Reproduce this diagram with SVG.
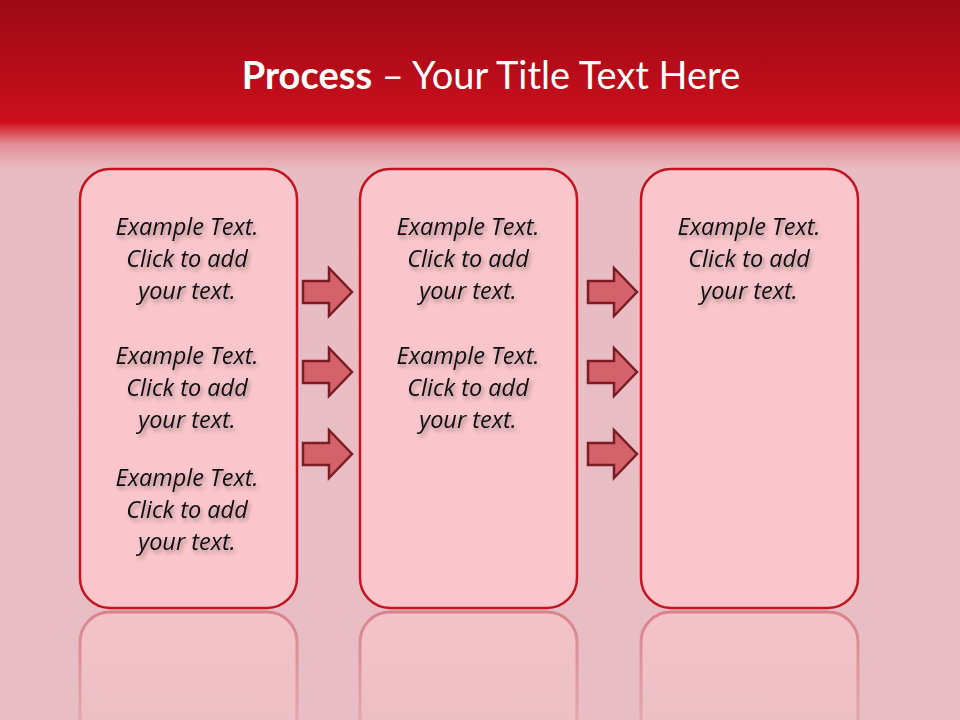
<svg xmlns="http://www.w3.org/2000/svg" width="960" height="720" viewBox="0 0 960 720">
<defs>
<linearGradient id="bg" x1="0" y1="0" x2="0" y2="1">
<stop offset="0" stop-color="#9b0914"/>
<stop offset="0.17" stop-color="#cc0f1d"/>
<stop offset="0.178" stop-color="#d8323e"/>
<stop offset="0.2" stop-color="#e38e97"/>
<stop offset="0.235" stop-color="#e8bcc2"/>
<stop offset="1" stop-color="#e8bec4"/>
</linearGradient>
<linearGradient id="refl" x1="0" y1="0" x2="0" y2="1">
<stop offset="0" stop-color="#fff" stop-opacity="0.85"/>
<stop offset="1" stop-color="#fff" stop-opacity="0.3"/>
</linearGradient>
<mask id="rm" maskUnits="userSpaceOnUse" x="0" y="600" width="960" height="120">
<rect x="0" y="600" width="960" height="120" fill="url(#refl)"/>
</mask>
<filter id="ts" x="-10%" y="-20%" width="120%" height="160%">
<feGaussianBlur in="SourceAlpha" stdDeviation="2"/>
<feOffset dx="2" dy="3" result="b"/>
<feComponentTransfer><feFuncA type="linear" slope="0.35"/></feComponentTransfer>
<feMerge><feMergeNode/><feMergeNode in="SourceGraphic"/></feMerge>
</filter>
<path id="arr" d="M0,-11 H26 V-24 L49,0 L26,24 V11 H0 Z"/>
</defs>
<style>
.box{fill:#fac6cb;stroke:#c3141f;stroke-width:2.5}
.rbox{fill:#f6c4c9;stroke:#d4747e;stroke-width:3}
.t{font-family:"Open Sans","Liberation Sans",sans-serif;font-style:italic;font-size:23.5px;fill:#111;text-anchor:middle}
.a{fill:#d3626a;stroke:#7b1e24;stroke-width:2.5}
</style>
<rect x="0" y="0" width="960" height="720" fill="url(#bg)"/>
<text x="491" y="89" font-family="Lato,'Open Sans',sans-serif" font-size="38" fill="#fff" text-anchor="middle"><tspan font-weight="bold">Process</tspan>  – Your Title Text Here</text>
<g id="reflections" mask="url(#rm)">
<rect class="rbox" x="80" y="612" width="217" height="200" rx="30"/>
<rect class="rbox" x="360" y="612" width="217" height="200" rx="30"/>
<rect class="rbox" x="641" y="612" width="217" height="200" rx="30"/>
</g>
<g id="box1">
<rect class="box" x="80" y="169" width="217" height="439" rx="30"/>
<g class="t" filter="url(#ts)">
<text x="187" y="235">Example Text.</text>
<text x="187" y="267">Click  to add</text>
<text x="187" y="299">your text.</text>
<text x="187" y="364">Example Text.</text>
<text x="187" y="396">Click  to add</text>
<text x="187" y="428">your text.</text>
<text x="187" y="486">Example Text.</text>
<text x="187" y="518">Click  to add</text>
<text x="187" y="550">your text.</text>
</g>
</g>
<g id="box2">
<rect class="box" x="360" y="169" width="217" height="439" rx="30"/>
<g class="t" filter="url(#ts)">
<text x="468" y="235">Example Text.</text>
<text x="468" y="267">Click  to add</text>
<text x="468" y="299">your text.</text>
<text x="468" y="364">Example Text.</text>
<text x="468" y="396">Click  to add</text>
<text x="468" y="428">your text.</text>
</g>
</g>
<g id="box3">
<rect class="box" x="641" y="169" width="217" height="439" rx="30"/>
<g class="t" filter="url(#ts)">
<text x="749" y="235">Example Text.</text>
<text x="749" y="267">Click  to add</text>
<text x="749" y="299">your text.</text>
</g>
</g>
<g id="connectors">
<use href="#arr" class="a" x="303" y="292"/>
<use href="#arr" class="a" x="303" y="372"/>
<use href="#arr" class="a" x="303" y="454"/>
<use href="#arr" class="a" x="588" y="292"/>
<use href="#arr" class="a" x="588" y="372"/>
<use href="#arr" class="a" x="588" y="454"/>
</g>
</svg>
